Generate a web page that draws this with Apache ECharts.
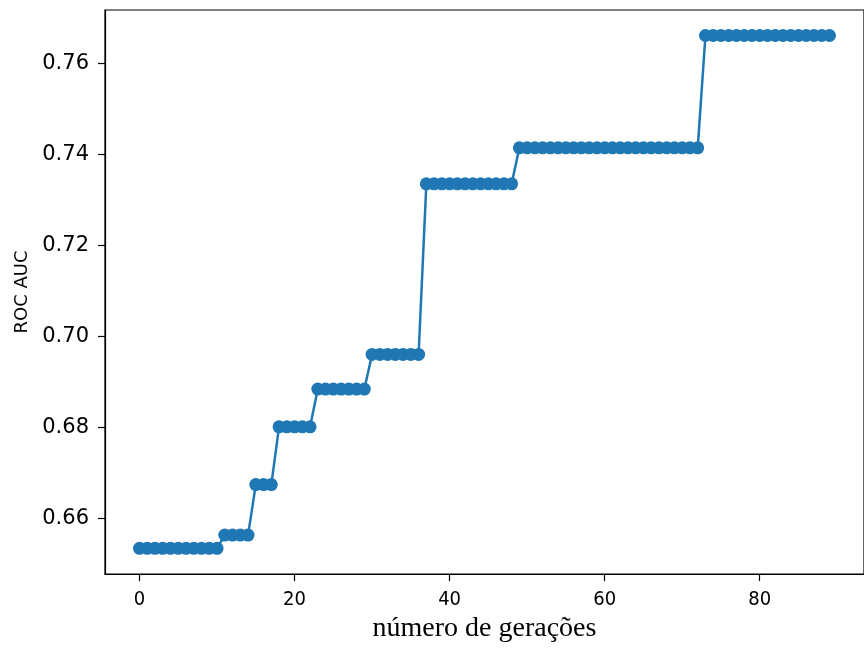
<!DOCTYPE html>
<html>
<head>
<meta charset="utf-8">
<script src="https://cdn.jsdelivr.net/npm/echarts@6/dist/echarts.min.js"></script>
<style>
html,body{margin:0;padding:0;background:#fff;}
#chart{width:864px;height:648px;}
</style>
</head>
<body>
<div id="chart"></div>
<script>
// ROC AUC per generation (generations 0..89)
const rocAuc = [
  0.6535, 0.6535, 0.6535, 0.6535, 0.6535, 0.6535, 0.6535, 0.6535, 0.6535, 0.6535,
  0.6535, 0.6564, 0.6564, 0.6564, 0.6564, 0.6675, 0.6675, 0.6675, 0.6802, 0.6802,
  0.6802, 0.6802, 0.6802, 0.6885, 0.6885, 0.6885, 0.6885, 0.6885, 0.6885, 0.6885,
  0.6961, 0.6961, 0.6961, 0.6961, 0.6961, 0.6961, 0.6961, 0.7336, 0.7336, 0.7336,
  0.7336, 0.7336, 0.7336, 0.7336, 0.7336, 0.7336, 0.7336, 0.7336, 0.7336, 0.7415,
  0.7415, 0.7415, 0.7415, 0.7415, 0.7415, 0.7415, 0.7415, 0.7415, 0.7415, 0.7415,
  0.7415, 0.7415, 0.7415, 0.7415, 0.7415, 0.7415, 0.7415, 0.7415, 0.7415, 0.7415,
  0.7415, 0.7415, 0.7415, 0.7662, 0.7662, 0.7662, 0.7662, 0.7662, 0.7662, 0.7662,
  0.7662, 0.7662, 0.7662, 0.7662, 0.7662, 0.7662, 0.7662, 0.7662, 0.7662, 0.7662
];
const xTicks = [0, 20, 40, 60, 80];
const yTicks = [0.66, 0.68, 0.70, 0.72, 0.74, 0.76];
const xName = 'número de gerações';
const yName = 'ROC AUC';

const points = rocAuc.map((v, i) => [i, v]);

const chart = echarts.init(document.getElementById('chart'), null, {renderer: 'canvas'});
chart.setOption({
  animation: false,
  backgroundColor: '#ffffff',
  grid: {
    left: 105, top: 10, width: 764, height: 587,
    show: true, borderColor: '#000', borderWidth: 1.2, backgroundColor: 'transparent'
  },
  xAxis: {
    type: 'value',
    min: -4.45, max: 93.45,
    name: xName,
    nameLocation: 'middle',
    nameGap: 41,
    nameTextStyle: {fontFamily: 'Liberation Serif', fontSize: 28, color: '#000'},
    axisLine: {show: true, onZero: false, lineStyle: {color: '#000', width: 1.2}},
    axisTick: {show: true, customValues: xTicks, length: 7, lineStyle: {color: '#000', width: 1.2}},
    axisLabel: {show: true, customValues: xTicks, margin: 16, fontFamily: '"DejaVu Sans Condensed", "Liberation Sans Narrow", "DejaVu Sans"', fontSize: 20, color: '#000'},
    splitLine: {show: false}
  },
  yAxis: {
    type: 'value',
    min: 0.64785, max: 0.7718,
    name: yName,
    nameLocation: 'middle',
    nameGap: 74,
    nameRotate: 90,
    nameTextStyle: {fontFamily: 'DejaVu Sans', fontSize: 18, color: '#000'},
    axisLine: {show: true, onZero: false, lineStyle: {color: '#000', width: 1.2}},
    axisTick: {show: true, customValues: yTicks, length: 7, lineStyle: {color: '#000', width: 1.2}},
    axisLabel: {show: true, customValues: yTicks, margin: 16, fontFamily: 'DejaVu Sans', fontSize: 21, color: '#000',
      formatter: v => v.toFixed(2)},
    splitLine: {show: false}
  },
  series: [{
    type: 'line',
    data: points,
    symbol: 'circle',
    symbolSize: 13,
    showAllSymbol: true,
    lineStyle: {color: '#1f77b4', width: 2.5},
    itemStyle: {color: '#1f77b4', borderWidth: 0},
    emphasis: {disabled: true}
  }]
});
</script>
</body>
</html>
